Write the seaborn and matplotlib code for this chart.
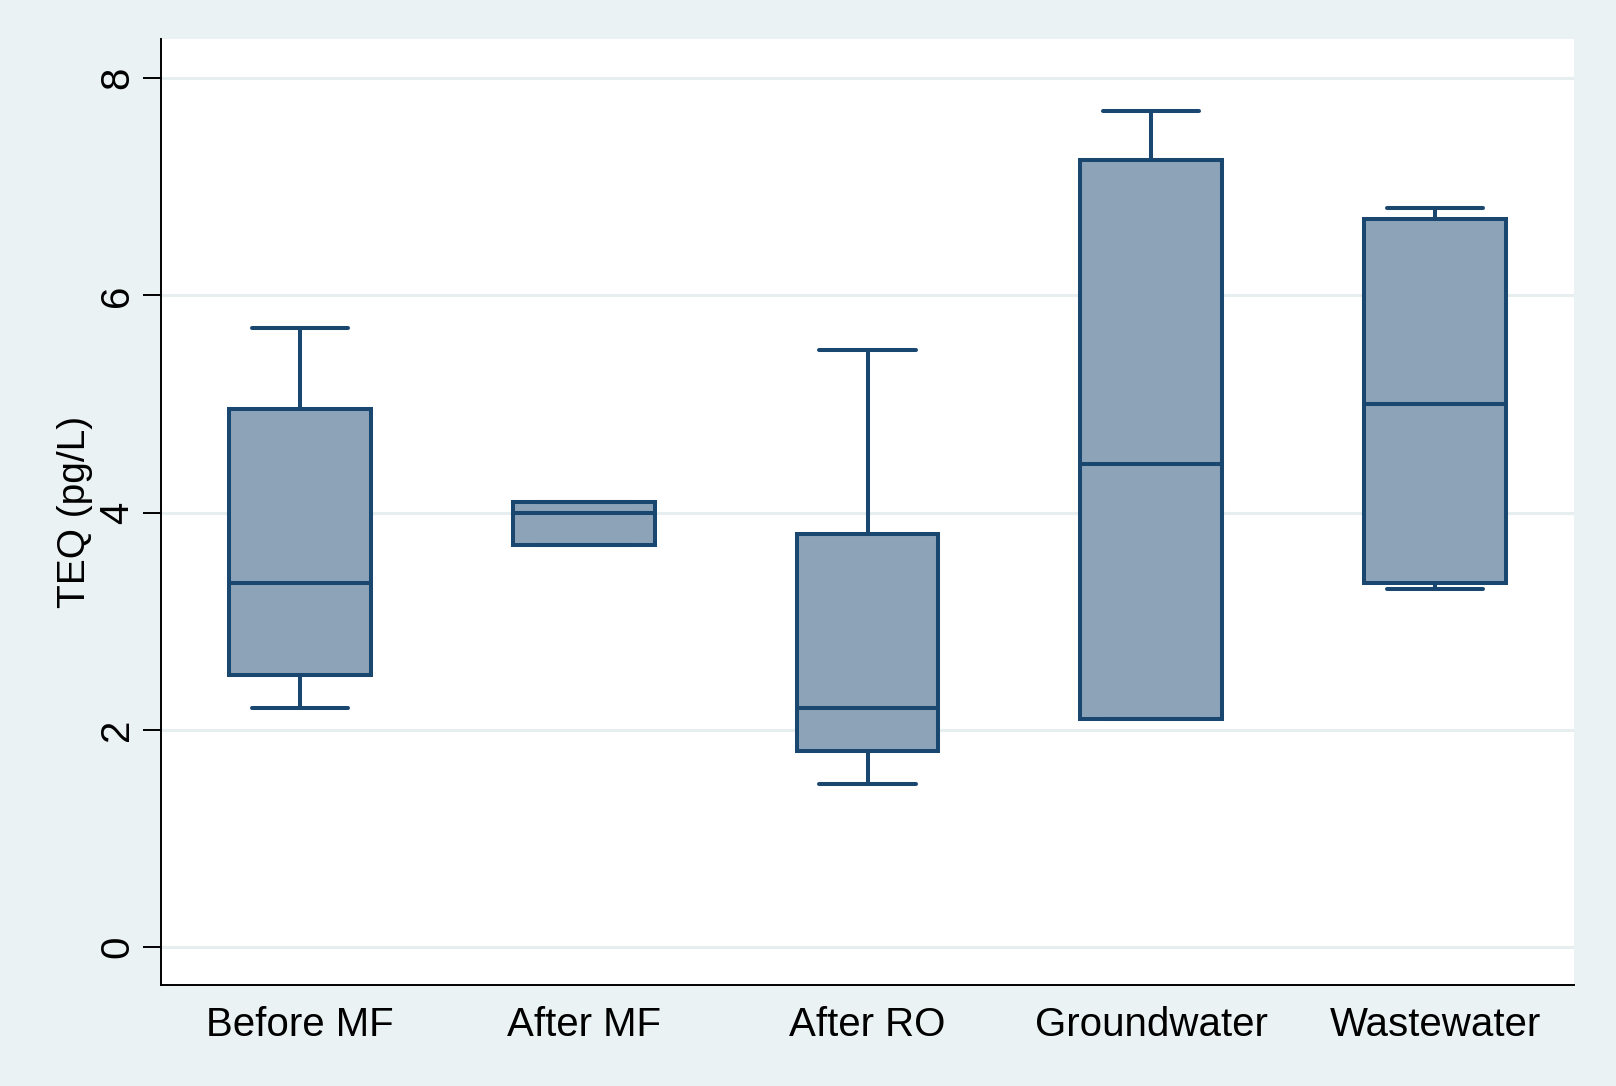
import matplotlib
matplotlib.use("Agg")
import matplotlib.pyplot as plt
import seaborn as sns
import pandas as pd

categories = ["Before MF", "After MF", "After RO", "Groundwater", "Wastewater"]
# five-number summaries: min, Q1, median, Q3, max
before_mf = [2.2, 2.5, 3.35, 4.95, 5.7]
after_mf = [3.7, 3.7, 4.0, 4.1, 4.1]
after_ro = [1.5, 1.8, 2.2, 3.8, 5.5]
groundwater = [2.1, 2.1, 4.45, 7.25, 7.7]
wastewater = [3.3, 3.35, 5.0, 6.7, 6.8]
y_ticks = [0, 2, 4, 6, 8]
y_label = "TEQ (pg/L)"

series = [before_mf, after_mf, after_ro, groundwater, wastewater]
df = pd.DataFrame({
    "group": [c for c, s in zip(categories, series) for _ in s],
    "teq": [v for s in series for v in s],
})

sns.set_theme(style="white")
plt.rcParams["font.family"] = ["Liberation Sans", "DejaVu Sans"]
plt.rcParams["text.color"] = "black"
plt.rcParams["axes.labelcolor"] = "black"
plt.rcParams["xtick.color"] = "black"
plt.rcParams["ytick.color"] = "black"

BG = "#EAF2F3"
NAVY = "#1A476F"
FILL = "#8DA3B8"

fig = plt.figure(figsize=(16.16, 10.86), dpi=100, facecolor=BG)
ax = fig.add_axes([161 / 1616, 1 - 985 / 1086, (1574 - 161) / 1616, (985 - 39) / 1086])
ax.set_facecolor("white")

for t in y_ticks:
    ax.axhline(t, color="#E6EEF0", lw=2.2, zorder=0)

sns.boxplot(data=df, x="group", y="teq", order=categories, whis=(0, 100),
            width=0.5, color=FILL, linecolor=NAVY, linewidth=2.9,
            saturation=1, capwidths=0.34, ax=ax, zorder=2)

for art in ax.patches:
    art.set_facecolor(FILL)
    art.set_edgecolor(NAVY)
for ln in ax.lines:
    ln.set_solid_capstyle("round")

ax.set_xlim(-0.49, 4.49)
ax.set_ylim(-0.35, 8.36)
ax.set_yticks(y_ticks)
ax.set_yticklabels([str(t) for t in y_ticks], rotation=90, va="center", fontsize=29)
ax.tick_params(axis="y", length=13, width=1.4, color="black", labelcolor="black", pad=5, left=True)
ax.tick_params(axis="x", length=0, pad=15, labelsize=29, labelcolor="black")
ax.set_xlabel("")
ax.set_ylabel(y_label, fontsize=28, color="black")
ax.yaxis.set_label_coords(-0.048, 0.5)

for s in ["top", "right"]:
    ax.spines[s].set_visible(False)
for s in ["left", "bottom"]:
    ax.spines[s].set_color("black")
    ax.spines[s].set_linewidth(1.4)

fig.savefig("out.png", dpi=100, facecolor=BG)
